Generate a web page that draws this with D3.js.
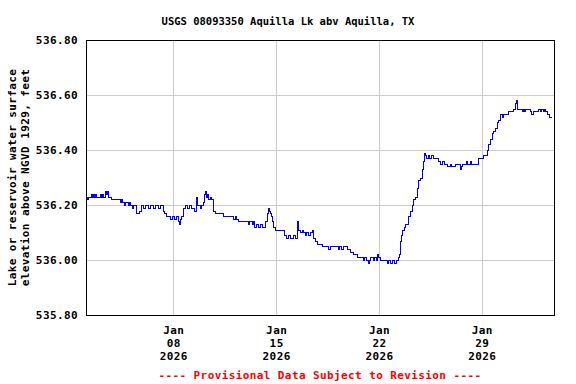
<!DOCTYPE html>
<html>
<head>
<meta charset="utf-8">
<script src="https://cdn.jsdelivr.net/npm/d3@7"></script>
<style>
  body { margin: 0; background: #fff; }
  text { font-family: "DejaVu Sans Mono", monospace; font-weight: bold; }
</style>
</head>
<body>
<svg id="chart" width="576" height="384"></svg>
<script>
// chart text
const title = "USGS 08093350 Aquilla Lk abv Aquilla, TX";
const yLabel = ["Lake or reservoir water surface", "elevation above NGVD 1929, feet"];
const footer = "---- Provisional Data Subject to Revision ----";

// axes
const yTicks = [535.8, 536.0, 536.2, 536.4, 536.6, 536.8];
const xTicks = ["2026-01-08", "2026-01-15", "2026-01-22", "2026-01-29"];
const xRange = ["2026-01-02 01:20", "2026-02-02 22:00"];

// gage height readings
const readings = [
  ["2026-01-02 01:00", 536.23], ["2026-01-02 03:00", 536.22], ["2026-01-02 05:00", 536.23],
  ["2026-01-02 10:00", 536.24], ["2026-01-02 11:00", 536.23], ["2026-01-02 13:00", 536.24],
  ["2026-01-02 14:00", 536.23], ["2026-01-02 16:00", 536.24], ["2026-01-02 18:00", 536.23],
  ["2026-01-03 00:00", 536.24], ["2026-01-03 02:00", 536.23], ["2026-01-03 03:00", 536.24],
  ["2026-01-03 05:00", 536.23], ["2026-01-03 08:00", 536.25], ["2026-01-03 10:00", 536.24],
  ["2026-01-03 12:00", 536.25], ["2026-01-03 13:00", 536.23], ["2026-01-03 18:00", 536.22],
  ["2026-01-04 09:00", 536.21], ["2026-01-04 11:00", 536.22], ["2026-01-04 12:00", 536.21],
  ["2026-01-04 15:00", 536.20], ["2026-01-04 17:00", 536.21], ["2026-01-04 22:00", 536.20],
  ["2026-01-05 00:00", 536.21], ["2026-01-05 01:00", 536.20], ["2026-01-05 04:00", 536.19],
  ["2026-01-05 06:00", 536.20], ["2026-01-05 11:00", 536.17], ["2026-01-05 16:00", 536.18],
  ["2026-01-05 19:00", 536.20], ["2026-01-05 22:00", 536.19], ["2026-01-06 02:00", 536.20],
  ["2026-01-06 07:00", 536.19], ["2026-01-06 10:00", 536.20], ["2026-01-06 15:00", 536.19],
  ["2026-01-06 18:00", 536.20], ["2026-01-06 23:00", 536.19], ["2026-01-07 02:00", 536.20],
  ["2026-01-07 07:00", 536.18], ["2026-01-07 09:00", 536.17], ["2026-01-07 12:00", 536.16],
  ["2026-01-07 19:00", 536.15], ["2026-01-07 22:00", 536.16], ["2026-01-08 01:00", 536.15],
  ["2026-01-08 04:00", 536.16], ["2026-01-08 08:00", 536.14], ["2026-01-08 09:00", 536.13],
  ["2026-01-08 11:00", 536.15], ["2026-01-08 13:00", 536.16], ["2026-01-08 16:00", 536.19],
  ["2026-01-08 19:00", 536.20], ["2026-01-08 22:00", 536.19], ["2026-01-09 02:00", 536.20],
  ["2026-01-09 05:00", 536.19], ["2026-01-09 10:00", 536.18], ["2026-01-09 13:00", 536.23],
  ["2026-01-09 15:00", 536.20], ["2026-01-09 20:00", 536.19], ["2026-01-09 21:00", 536.20],
  ["2026-01-10 01:00", 536.21], ["2026-01-10 02:00", 536.24], ["2026-01-10 04:00", 536.25],
  ["2026-01-10 05:00", 536.23], ["2026-01-10 07:00", 536.24], ["2026-01-10 09:00", 536.22],
  ["2026-01-10 12:00", 536.23], ["2026-01-10 14:00", 536.22], ["2026-01-10 17:00", 536.18],
  ["2026-01-10 20:00", 536.17], ["2026-01-11 09:00", 536.16], ["2026-01-12 02:00", 536.15],
  ["2026-01-12 05:00", 536.16], ["2026-01-12 06:00", 536.15], ["2026-01-12 10:00", 536.14],
  ["2026-01-13 02:00", 536.13], ["2026-01-13 04:00", 536.14], ["2026-01-13 09:00", 536.13],
  ["2026-01-13 10:00", 536.14], ["2026-01-13 12:00", 536.12], ["2026-01-13 15:00", 536.13],
  ["2026-01-13 18:00", 536.12], ["2026-01-13 22:00", 536.13], ["2026-01-14 01:00", 536.12],
  ["2026-01-14 06:00", 536.14], ["2026-01-14 09:00", 536.17], ["2026-01-14 11:00", 536.19],
  ["2026-01-14 12:00", 536.18], ["2026-01-14 14:00", 536.17], ["2026-01-14 16:00", 536.16],
  ["2026-01-14 17:00", 536.14], ["2026-01-14 19:00", 536.12], ["2026-01-14 22:00", 536.11],
  ["2026-01-15 13:00", 536.09], ["2026-01-15 16:00", 536.08], ["2026-01-15 19:00", 536.09],
  ["2026-01-15 23:00", 536.08], ["2026-01-16 04:00", 536.09], ["2026-01-16 07:00", 536.08],
  ["2026-01-16 10:00", 536.14], ["2026-01-16 12:00", 536.11], ["2026-01-16 15:00", 536.10],
  ["2026-01-16 18:00", 536.11], ["2026-01-16 20:00", 536.10], ["2026-01-16 23:00", 536.09],
  ["2026-01-17 01:00", 536.10], ["2026-01-17 04:00", 536.09], ["2026-01-17 07:00", 536.10],
  ["2026-01-17 11:00", 536.11], ["2026-01-17 12:00", 536.08], ["2026-01-17 16:00", 536.07],
  ["2026-01-17 19:00", 536.06], ["2026-01-18 03:00", 536.05], ["2026-01-18 13:00", 536.04],
  ["2026-01-18 16:00", 536.05], ["2026-01-19 05:00", 536.04], ["2026-01-19 07:00", 536.05],
  ["2026-01-19 10:00", 536.04], ["2026-01-19 13:00", 536.05], ["2026-01-19 20:00", 536.04],
  ["2026-01-20 01:00", 536.03], ["2026-01-20 06:00", 536.02], ["2026-01-20 12:00", 536.01],
  ["2026-01-20 22:00", 536.00], ["2026-01-21 00:00", 536.01], ["2026-01-21 03:00", 536.00],
  ["2026-01-21 06:00", 535.99], ["2026-01-21 08:00", 536.00], ["2026-01-21 09:00", 536.01],
  ["2026-01-21 14:00", 536.00], ["2026-01-21 16:00", 536.01], ["2026-01-21 19:00", 536.00],
  ["2026-01-21 21:00", 536.02], ["2026-01-21 22:00", 536.01], ["2026-01-22 02:00", 536.00],
  ["2026-01-22 13:00", 535.99], ["2026-01-22 15:00", 536.00], ["2026-01-22 18:00", 535.99],
  ["2026-01-22 21:00", 536.00], ["2026-01-23 01:00", 535.99], ["2026-01-23 04:00", 536.00],
  ["2026-01-23 07:00", 536.01], ["2026-01-23 09:00", 536.02], ["2026-01-23 10:00", 536.07],
  ["2026-01-23 12:00", 536.09], ["2026-01-23 14:00", 536.11], ["2026-01-23 17:00", 536.12],
  ["2026-01-23 19:00", 536.13], ["2026-01-23 23:00", 536.16], ["2026-01-24 03:00", 536.18],
  ["2026-01-24 06:00", 536.20], ["2026-01-24 08:00", 536.22], ["2026-01-24 11:00", 536.23],
  ["2026-01-24 14:00", 536.26], ["2026-01-24 16:00", 536.29], ["2026-01-24 19:00", 536.30],
  ["2026-01-24 22:00", 536.33], ["2026-01-25 00:00", 536.36], ["2026-01-25 02:00", 536.39],
  ["2026-01-25 03:00", 536.38], ["2026-01-25 05:00", 536.37], ["2026-01-25 08:00", 536.38],
  ["2026-01-25 10:00", 536.37], ["2026-01-25 13:00", 536.38], ["2026-01-25 16:00", 536.37],
  ["2026-01-26 01:00", 536.36], ["2026-01-26 04:00", 536.35], ["2026-01-26 07:00", 536.36],
  ["2026-01-26 10:00", 536.35], ["2026-01-26 15:00", 536.34], ["2026-01-26 20:00", 536.35],
  ["2026-01-26 22:00", 536.34], ["2026-01-27 04:00", 536.35], ["2026-01-27 12:00", 536.33],
  ["2026-01-27 14:00", 536.34], ["2026-01-27 16:00", 536.35], ["2026-01-27 22:00", 536.36],
  ["2026-01-28 00:00", 536.35], ["2026-01-28 05:00", 536.36], ["2026-01-28 06:00", 536.35],
  ["2026-01-28 18:00", 536.37], ["2026-01-29 02:00", 536.38], ["2026-01-29 09:00", 536.40],
  ["2026-01-29 10:00", 536.42], ["2026-01-29 13:00", 536.44], ["2026-01-29 17:00", 536.46],
  ["2026-01-29 18:00", 536.47], ["2026-01-29 22:00", 536.48], ["2026-01-30 01:00", 536.50],
  ["2026-01-30 03:00", 536.51], ["2026-01-30 06:00", 536.53], ["2026-01-30 09:00", 536.52],
  ["2026-01-30 11:00", 536.53], ["2026-01-30 19:00", 536.54], ["2026-01-31 03:00", 536.55],
  ["2026-01-31 06:00", 536.57], ["2026-01-31 08:00", 536.58], ["2026-01-31 10:00", 536.55],
  ["2026-01-31 18:00", 536.54], ["2026-01-31 19:00", 536.55], ["2026-01-31 21:00", 536.54],
  ["2026-01-31 23:00", 536.55], ["2026-02-01 07:00", 536.54], ["2026-02-01 08:00", 536.53],
  ["2026-02-01 12:00", 536.54], ["2026-02-01 20:00", 536.55], ["2026-02-01 23:00", 536.54],
  ["2026-02-02 01:00", 536.55], ["2026-02-02 04:00", 536.54], ["2026-02-02 06:00", 536.55],
  ["2026-02-02 07:00", 536.54], ["2026-02-02 11:00", 536.53], ["2026-02-02 14:00", 536.52],
  ["2026-02-02 17:00", 536.52]
];

const parseTime = d3.timeParse("%Y-%m-%d %H:%M");
const parseDay = d3.timeParse("%Y-%m-%d");
const data = readings.map(d => ({ t: parseTime(d[0]), v: d[1] }));

const width = 576, height = 384;
const margin = { top: 40, right: 22, bottom: 69, left: 86 };
const plotW = width - margin.left - margin.right;
const plotH = height - margin.top - margin.bottom;

const svg = d3.select("#chart");

const x = d3.scaleTime()
  .domain(xRange.map(parseTime))
  .range([margin.left, margin.left + plotW]);

const y = d3.scaleLinear()
  .domain([535.8, 536.8])
  .range([margin.top + plotH, margin.top]);

// grid lines
svg.append("g")
  .attr("transform", `translate(${margin.left},0)`)
  .call(d3.axisLeft(y).tickValues(yTicks).tickSize(-plotW).tickFormat(""))
  .call(g => g.select(".domain").remove())
  .call(g => g.selectAll("line").attr("stroke", "#cccccc").attr("shape-rendering", "crispEdges"));

svg.append("g")
  .attr("transform", `translate(0,${margin.top + plotH})`)
  .call(d3.axisBottom(x).tickValues(xTicks.map(parseDay)).tickSize(-plotH).tickFormat(""))
  .call(g => g.select(".domain").remove())
  .call(g => g.selectAll("line").attr("stroke", "#cccccc").attr("shape-rendering", "crispEdges"));

// data line (stepped like the 15-minute record)
const line = d3.line()
  .x(d => Math.round(x(d.t)) + 0.5)
  .y(d => Math.round(y(d.v)) + 0.5)
  .curve(d3.curveStepAfter);

svg.append("path")
  .datum(data)
  .attr("fill", "none")
  .attr("stroke", "#0000ff")
  .attr("stroke-width", 1)
  .attr("shape-rendering", "crispEdges")
  .attr("d", line);

// frame
svg.append("rect")
  .attr("x", margin.left + 0.5)
  .attr("y", margin.top + 0.5)
  .attr("width", plotW)
  .attr("height", plotH)
  .attr("fill", "none")
  .attr("stroke", "#000")
  .attr("shape-rendering", "crispEdges");

// y tick labels
const yAxis = svg.append("g")
  .attr("transform", `translate(${margin.left - 2},0)`)
  .call(d3.axisLeft(y).tickValues(yTicks).tickSize(0).tickPadding(6).tickFormat(d3.format(".2f")))
  .call(g => g.select(".domain").remove());
yAxis.selectAll("text")
  .attr("font-family", null)
  .style("font-size", "11px")
  .style("letter-spacing", "0.4px")
  .attr("fill", "#000");

// x tick labels, three rows each
const xAxis = svg.append("g")
  .attr("transform", `translate(0,${margin.top + plotH})`)
  .call(d3.axisBottom(x).tickValues(xTicks.map(parseDay)).tickSize(0).tickFormat(""))
  .call(g => g.select(".domain").remove());

const rowFormats = [d3.timeFormat("%b"), d3.timeFormat("%d"), d3.timeFormat("%Y")];
xAxis.selectAll(".tick").each(function (d) {
  const tick = d3.select(this);
  tick.select("text").remove();
  rowFormats.forEach((f, i) => {
    tick.append("text")
      .attr("y", 19 + i * 13)
      .attr("text-anchor", "middle")
      .attr("fill", "#000")
      .style("font-size", "11px")
      .style("letter-spacing", "0.4px")
      .text(f(d));
  });
});

// title
svg.append("text")
  .attr("x", width / 2)
  .attr("y", 25)
  .attr("text-anchor", "middle")
  .style("font-size", "10.5px")
  .text(title);

// y axis label, two rotated lines
yLabel.forEach((s, i) => {
  svg.append("text")
    .attr("transform", `translate(${16 + i * 13},${margin.top + plotH / 2}) rotate(-90)`)
    .attr("text-anchor", "middle")
    .style("font-size", "11px")
    .style("letter-spacing", "0.4px")
    .text(s);
});

// provisional footer
svg.append("text")
  .attr("x", margin.left + plotW / 2)
  .attr("y", 379)
  .attr("text-anchor", "middle")
  .attr("fill", "#ff0000")
  .style("font-size", "11px")
  .style("letter-spacing", "0.4px")
  .text(footer);
</script>
</body>
</html>
